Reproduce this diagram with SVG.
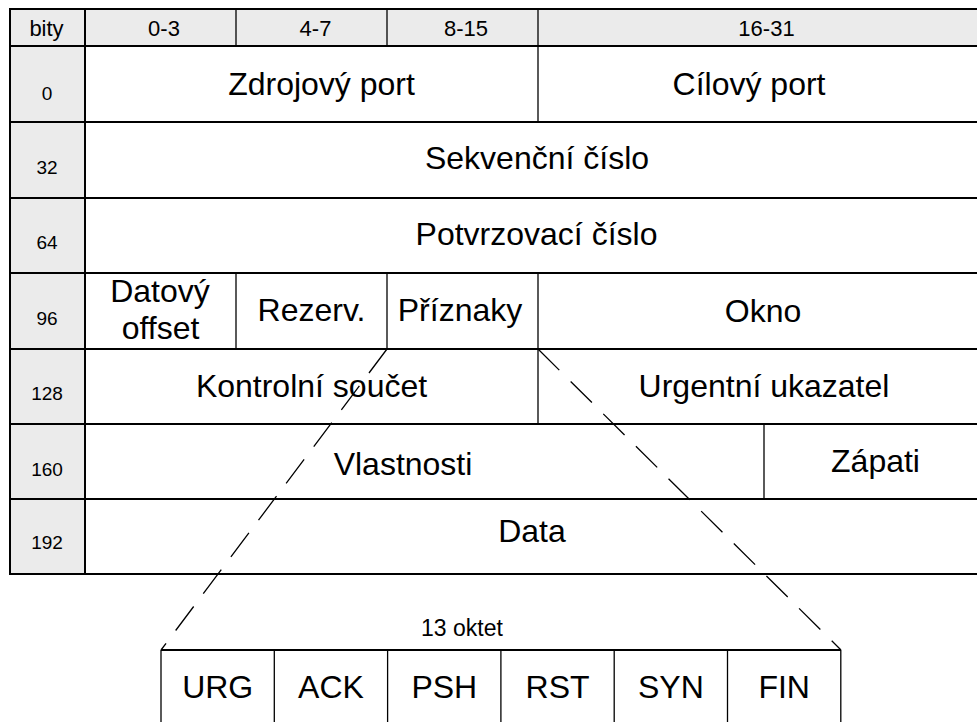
<svg xmlns="http://www.w3.org/2000/svg" width="977" height="722" viewBox="0 0 977 722">
  <style>
    text { font-family: "Liberation Sans", Arial, sans-serif; fill: #000; text-anchor: middle; }
    .hdr { font-size: 22px; }
    .off { font-size: 19px; }
    .fld { font-size: 32px; }
    .cap { font-size: 23px; }
    .gray { fill: #ebebeb; }
    .white { fill: #ffffff; }
    .h { stroke: #000; stroke-width: 2; fill: none; }
    .v { stroke: #000; stroke-width: 1.3; fill: none; }
    .dash { stroke: #000; stroke-width: 1.3; fill: none; stroke-dasharray: 30 16; }
  </style>

  <rect x="0" y="0" width="977" height="722" fill="#ffffff"/>

  <!-- header row -->
  <g id="header">
    <rect class="gray" x="10" y="9" width="967" height="37"/>
    <text class="hdr" x="46.5" y="36">bity</text>
    <text class="hdr" x="164" y="36">0-3</text>
    <text class="hdr" x="315.5" y="36">4-7</text>
    <text class="hdr" x="466" y="36">8-15</text>
    <text class="hdr" x="766.5" y="36">16-31</text>
  </g>

  <!-- bit offset column -->
  <g id="offsets">
    <rect class="gray" x="10" y="46" width="75" height="528"/>
    <text class="off" x="47" y="100">0</text>
    <text class="off" x="47" y="174">32</text>
    <text class="off" x="47" y="249">64</text>
    <text class="off" x="47" y="325">96</text>
    <text class="off" x="47" y="400">128</text>
    <text class="off" x="47" y="476">160</text>
    <text class="off" x="47" y="549">192</text>
  </g>

  <g id="src-port"><text class="fld" x="321.5" y="94.5">Zdrojový port</text></g>
  <g id="dst-port"><text class="fld" x="749" y="94.5">Cílový port</text></g>
  <g id="seq"><text class="fld" x="537" y="169">Sekvenční číslo</text></g>
  <g id="ack"><text class="fld" x="536.5" y="245">Potvrzovací číslo</text></g>
  <g id="data-offset">
    <text class="fld" x="160" y="301.5">Datový</text>
    <text class="fld" x="160.5" y="339">offset</text>
  </g>
  <g id="reserved"><text class="fld" x="311.5" y="321">Rezerv.</text></g>
  <g id="flags"><text class="fld" x="460" y="321">Příznaky</text></g>
  <g id="window"><text class="fld" x="763" y="321.5">Okno</text></g>
  <g id="checksum"><text class="fld" x="311.5" y="397">Kontrolní součet</text></g>
  <g id="urgent"><text class="fld" x="764" y="397">Urgentní ukazatel</text></g>
  <g id="options"><text class="fld" x="403" y="475">Vlastnosti</text></g>
  <g id="padding"><text class="fld" x="875.5" y="472">Zápati</text></g>
  <g id="data"><text class="fld" x="532" y="542">Data</text></g>

  <!-- table grid -->
  <g id="grid">
    <line class="h" x1="9" y1="9" x2="977" y2="9"/>
    <line class="h" x1="9" y1="46" x2="977" y2="46"/>
    <line class="h" x1="9" y1="122" x2="977" y2="122"/>
    <line class="h" x1="9" y1="198" x2="977" y2="198"/>
    <line class="h" x1="9" y1="273" x2="977" y2="273"/>
    <line class="h" x1="9" y1="349" x2="977" y2="349"/>
    <line class="h" x1="9" y1="424" x2="977" y2="424"/>
    <line class="h" x1="9" y1="499" x2="977" y2="499"/>
    <line class="h" x1="9" y1="574" x2="977" y2="574"/>
    <line class="h" x1="10" y1="8" x2="10" y2="575"/>
    <line class="h" x1="85" y1="8" x2="85" y2="575"/>
    <line class="v" x1="236" y1="9" x2="236" y2="46"/>
    <line class="v" x1="387" y1="9" x2="387" y2="46"/>
    <line class="v" x1="538" y1="9" x2="538" y2="122"/>
    <line class="v" x1="236" y1="273" x2="236" y2="349"/>
    <line class="v" x1="387" y1="273" x2="387" y2="349"/>
    <line class="v" x1="538" y1="273" x2="538" y2="424"/>
    <line class="v" x1="764" y1="424" x2="764" y2="499"/>
  </g>

  <!-- expansion lines from the flags field -->
  <g id="connectors">
    <line class="dash" x1="387" y1="349" x2="161" y2="650"/>
    <line class="dash" x1="538" y1="349" x2="841" y2="650"/>
  </g>

  <g id="octet-label"><text class="cap" x="462" y="636">13 oktet</text></g>

  <!-- flag bits -->
  <g id="flag-bits">
    <line class="h" x1="161" y1="650" x2="841" y2="650" stroke-width="1.5"/>
    <line class="v" x1="161" y1="650" x2="161" y2="723"/>
    <line class="v" x1="274.3" y1="650" x2="274.3" y2="723"/>
    <line class="v" x1="387.6" y1="650" x2="387.6" y2="723"/>
    <line class="v" x1="500.9" y1="650" x2="500.9" y2="723"/>
    <line class="v" x1="614.2" y1="650" x2="614.2" y2="723"/>
    <line class="v" x1="727.5" y1="650" x2="727.5" y2="723"/>
    <line class="v" x1="840.8" y1="650" x2="840.8" y2="723"/>
  </g>
  <g id="urg"><text class="fld" x="217.7" y="698">URG</text></g>
  <g id="ackf"><text class="fld" x="331" y="698">ACK</text></g>
  <g id="psh"><text class="fld" x="444.3" y="698">PSH</text></g>
  <g id="rst"><text class="fld" x="557.6" y="698">RST</text></g>
  <g id="syn"><text class="fld" x="670.9" y="698">SYN</text></g>
  <g id="fin"><text class="fld" x="784.2" y="698">FIN</text></g>
</svg>
